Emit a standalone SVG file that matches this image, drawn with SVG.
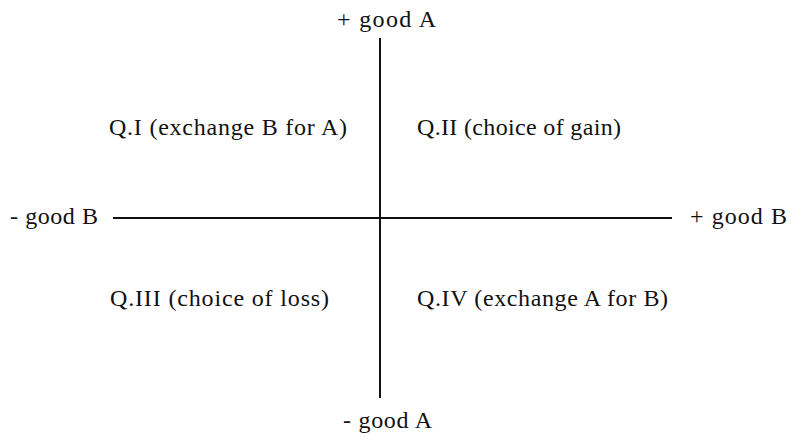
<svg xmlns="http://www.w3.org/2000/svg" width="791" height="436" viewBox="0 0 791 436">
<style>
text{font-family:"Liberation Serif","Times New Roman",serif;font-size:24px;fill:#111}
.ax{stroke:#111;stroke-width:2;fill:none}
</style>
<rect width="791" height="436" fill="#fff"/>
<g id="connectors">
<line class="ax" x1="380" y1="38" x2="380" y2="398"/>
<line class="ax" x1="113" y1="218" x2="672" y2="218"/>
</g>
<g id="label-plusA"><text x="337" y="27" textLength="99" lengthAdjust="spacing">+ good A</text></g>
<g id="label-minusA"><text x="343" y="428" textLength="89" lengthAdjust="spacing">- good A</text></g>
<g id="label-minusB"><text x="10" y="224" textLength="88" lengthAdjust="spacing">- good B</text></g>
<g id="label-plusB"><text x="690" y="224" textLength="97" lengthAdjust="spacing">+ good B</text></g>
<g id="q1"><text x="109" y="135" textLength="238" lengthAdjust="spacing">Q.I (exchange B for A)</text></g>
<g id="q2"><text x="417" y="135" textLength="204" lengthAdjust="spacing">Q.II (choice of gain)</text></g>
<g id="q3"><text x="110" y="306" textLength="219" lengthAdjust="spacing">Q.III (choice of loss)</text></g>
<g id="q4"><text x="417" y="306" textLength="251" lengthAdjust="spacing">Q.IV (exchange A for B)</text></g>
</svg>
